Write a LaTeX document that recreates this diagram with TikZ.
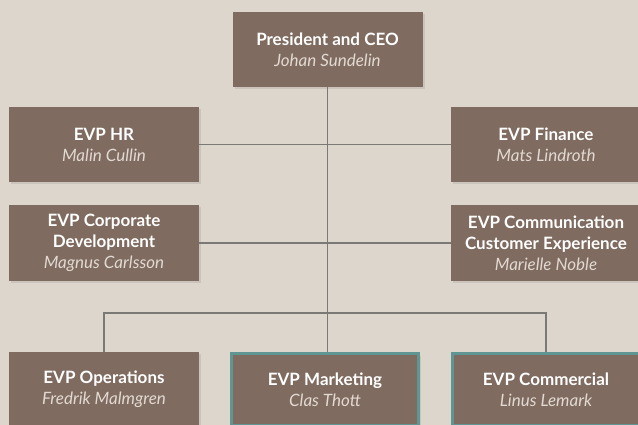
\documentclass[tikz,border=0pt]{standalone}
\usepackage{fontspec}
\setmainfont{Lato}
\usetikzlibrary{shadows}
\definecolor{bg}{HTML}{DDD6CC}
\definecolor{boxfill}{HTML}{7F6B5F}
\definecolor{evpteal}{HTML}{5F9593}
\definecolor{linegray}{HTML}{7A7976}
\definecolor{namegray}{HTML}{E2DAD2}
\newcommand{\who}[1]{{\color{namegray}\mdseries\itshape #1}}

\begin{document}
\begin{tikzpicture}[x=1pt,y=-1pt,
    role/.style={fill=boxfill, minimum width=190pt, minimum height=75pt,
      inner sep=0pt, align=center, text=white,
      font=\fontsize{17}{21}\selectfont\bfseries,
      drop shadow={shadow xshift=2pt, shadow yshift=-2pt, opacity=0.2}},
    marked/.style={role, draw=evpteal, line width=3pt,
      minimum width=187pt, minimum height=72pt},
    link/.style={draw=linegray, line width=1.2pt}]
  \fill[bg] (0,0) rectangle (638,425);
  \useasboundingbox (0,0) rectangle (638,425);
  % top
  \path (327.5, 49.5) node[role] (ceo) {President and CEO\\\who{Johan Sundelin}};
  % staff
  \path (104, 144.5) node[role] (hr) {EVP HR\\\who{Malin Cullin}}
        (104, 243) node[role] (corpdev) {EVP Corporate\\Development\\\who{Magnus Carlsson}}
        (546, 144.5) node[role] (finance) {EVP Finance\\\who{Mats Lindroth}}
        (546, 243) node[role] (comms) {EVP Communication\\Customer Experience\\\who{Marielle Noble}};
  % line
  \path (104, 389.5) node[role] (ops) {EVP Operations\\\who{Fredrik Malmgren}}
        (325, 389.5) node[marked] (marketing) {EVP Marketing\\\who{Clas Thott}}
        (546, 389.5) node[marked] (commercial) {EVP Commercial\\\who{Linus Lemark}};
  \coordinate (split) at (327.5, 313);
  \draw[link] (ceo.south) -- (ceo.south |- marketing.north);
  \draw[link] (hr) -- (hr -| ceo);
  \draw[link] (corpdev) -- (corpdev -| ceo);
  \draw[link] (finance) -- (finance -| ceo);
  \draw[link] (comms) -- (comms -| ceo);
  \draw[link] (ops) |- (split) -| (commercial);
\end{tikzpicture}
\end{document}
